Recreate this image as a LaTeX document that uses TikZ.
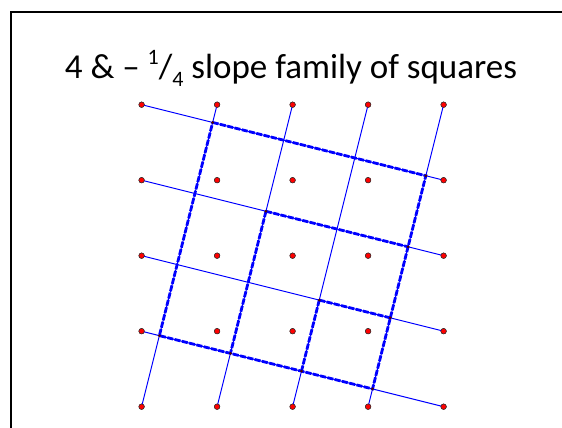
\documentclass[tikz,border=0pt]{standalone}
\usepackage{fontspec}
\setmainfont{Carlito}
\begin{document}
\begin{tikzpicture}[x=1pt,y=1pt,
  latdot/.style={circle,fill=red,draw=black!80,line width=0.5pt,inner sep=0pt,minimum size=5.5pt},
  xdot/.style={circle,fill=black!70!red,inner sep=0pt,minimum size=3pt},
  thinline/.style={blue,line width=1pt},
  sqedge/.style={blue,line width=2.8pt,dash pattern=on 6pt off 1.5pt}]
\path[use as bounding box] (0,0) rectangle (562,428);
\fill[black] (10,0) rectangle (12,416.5);
\fill[black] (10,414.5) rectangle (562,416.5);
\node[anchor=base,inner sep=0pt,font=\fontsize{35}{40}\selectfont] (title) at (291,349)
  {4 \& – \raisebox{0.42em}{\fontsize{22}{24}\selectfont 1}/\raisebox{-0.22em}{\fontsize{22}{24}\selectfont 4} slope family of squares};
\begin{scope}[shift={(141.6,21.3)},x=75.5pt,y=75.5pt]
  \foreach \i in {0,...,4}{
    \foreach \j in {0,...,4}{
      \node[latdot] (d-\i-\j) at (\i,\j) {};
    }
  }
  \foreach \k in {0,...,3}{
    \foreach \m in {0,...,3}{
      \coordinate (p-\k-\m) at ({4*(4-\k+4*\m)/17},{(64-16*\k-4*\m)/17});
    }
  }
  \foreach \k [evaluate=\k as \a using int(4-\k), evaluate=\k as \b using int(3-\k)] in {0,...,3}{
    \draw[thinline] (d-0-\a.center) -- (d-4-\b.center);
  }
  \foreach \m [evaluate=\m as \n using int(\m+1)] in {0,...,3}{
    \draw[thinline] (d-\m-0.center) -- (d-\n-4.center);
  }
  \draw[sqedge] (p-0-0) -- (p-0-3) -- (p-3-3) -- (p-3-0) -- cycle;
  \draw[sqedge] (p-1-1) -- (p-1-3);
  \draw[sqedge] (p-1-1) -- (p-3-1);
  \draw[sqedge] (p-2-2) -- (p-2-3);
  \draw[sqedge] (p-2-2) -- (p-3-2);
  \foreach \c in {0-0,0-3,1-1,1-3,2-2,2-3,3-0,3-1,3-2,3-3}{
    \node[xdot] (x-\c) at (p-\c) {};
  }
  \foreach \i in {0,...,4}{
    \foreach \j in {0,...,4}{
      \fill[red,draw=black!80,line width=0.5pt] (d-\i-\j) circle (2.75pt);
    }
  }
\end{scope}
\end{tikzpicture}
\end{document}
